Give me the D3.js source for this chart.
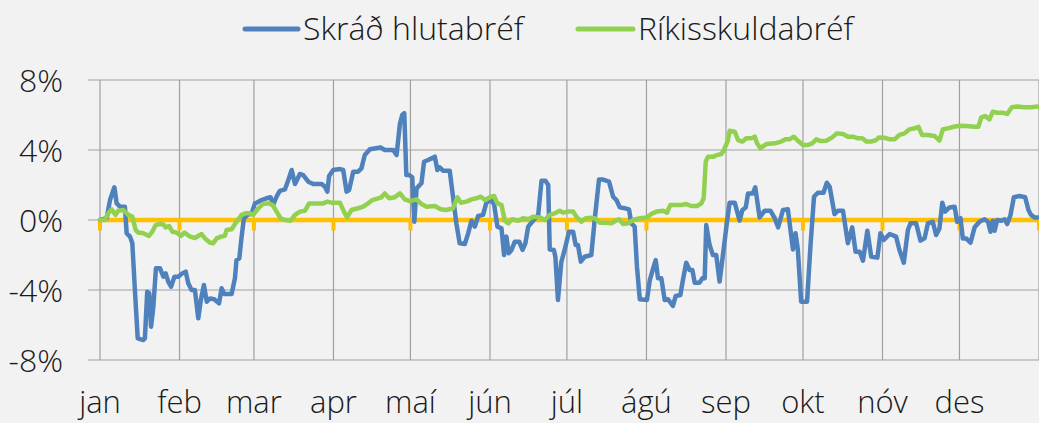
<!DOCTYPE html>
<html>
<head>
<meta charset="utf-8">
<script src="https://cdn.jsdelivr.net/npm/d3@7"></script>
<style>
  html, body { margin: 0; padding: 0; background: #F2F2F2; }
  svg { display: block; }
  text { font-family: "Open Sans", "Noto Sans", sans-serif; font-weight: 300; fill: #1a1a1a; }
</style>
</head>
<body>
<svg id="chart" width="1039" height="423"></svg>
<script>
// ---------- DATA ----------
const year = 2016;
const seriesNames = ["Skráð hlutabréf", "Ríkisskuldabréf"];
const monthLabels = ["jan", "feb", "mar", "apr", "maí", "jún", "júl", "ágú", "sep", "okt", "nóv", "des"];
const yTicks = [-8, -4, 0, 4, 8];

// day of year (0 = 1 Jan) and % change
const stockDays = [0,2.6,3.9,5.6,6.5,7.8,9.7,10.4,11.7,12.6,13.6,14.7,16.9,17.5,18.4,19.2,19.9,20.8,21.8,23.4,24.7,25.6,26.6,27.7,29.0,30.5,32.1,33.4,34.4,35.7,37.0,38.3,39.3,40.5,41.6,42.9,44.5,46.4,47.4,48.4,51.3,52.6,53.2,54.3,55.2,56.1,57.5,59.1,60.4,
  61.0,63.0,64.9,66.5,67.5,68.8,70.1,72.1,73.4,74.7,76.0,77.9,79.2,81.2,83.1,86.4,87.7,88.6,89.3,90.9,93.5,94.8,96.1,97.1,98.7,100.6,101.9,103.2,105.2,107.5,109.3,111.0,114.3,115.6,116.9,117.8,118.6,119.4,
  120.5,121.7,122.5,123.4,125.3,126.3,127.9,129.2,130.5,131.5,132.4,133.7,136.3,137.6,138.9,140.2,142.2,143.5,144.8,146.1,147.4,149.3,150.6,152.3,153.6,154.9,156.5,157.5,158.4,159.3,160.4,161.7,163.4,164.7,165.8,166.9,168.8,170.8,172.1,173.6,174.7,175.3,176.9,177.5,178.5,179.8,181.1,182.8,184.4,185.4,186.3,187.4,188.9,191.5,192.8,194.5,195.8,198.4,200.0,201.3,202.6,204.5,206.2,207.1,208.4,209.3,210.4,213.2,214.3,215.6,216.6,217.5,218.8,220.1,221.4,223.3,224.4,226.2,227.2,228.5,229.8,230.9,231.8,233.7,234.8,235.7,236.3,237.6,238.9,240.2,241.5,242.8,244.4,245.4,247.4,249.3,250.4,251.7,252.6,254.5,255.4,257.1,259.1,261.3,263.0,264.3,266.2,268.1,270.1,271.1,272.0,273.3,275.6,276.9,278.3,279.8,282.0,283.3,284.4,286.3,287.6,289.6,291.5,293.2,294.5,296.1,297.4,299.1,300.6,303.0,304.2,305.5,307.8,310.3,311.6,313.3,314.9,315.9,318.1,319.8,321.4,322.7,324.6,325.9,327.2,328.3,329.4,331.1,333.1,334.1,335.4,336.3,337.6,339.3,340.9,342.8,344.8,346.1,347.1,348.0,348.7,349.7,351.3,352.6,353.6,354.9,356.2,358.4,360.6,361.9,362.9,364.2,365.5];
const stockValues = [0,0.1,1.14,1.87,0.95,0.76,0.76,-0.76,-0.95,-1.33,-4.0,-6.76,-6.86,-6.76,-4.1,-4.19,-6.1,-4.95,-2.76,-2.76,-3.24,-3.05,-3.52,-3.81,-3.24,-3.24,-3.05,-2.95,-3.62,-4.0,-4.0,-5.62,-4.57,-3.71,-4.67,-4.48,-4.53,-4.76,-3.9,-4.23,-4.23,-3.33,-2.29,-2.19,-0.95,0.1,0.29,0.38,0.95,
  0.99,1.14,1.24,1.3,0.86,1.33,1.66,1.75,2.29,2.86,2.06,2.63,2.57,2.19,2.06,2.06,1.9,1.62,2.51,2.86,2.91,2.86,1.62,1.71,2.76,2.76,2.95,3.71,4.04,4.1,4.15,4.0,4.0,3.71,5.5,6.0,6.1,2.57,
  2.57,2.44,-0.1,1.81,2.1,3.33,3.43,3.52,3.62,2.86,3.0,2.82,2.82,1.33,-0.19,-1.33,-1.37,-0.76,-0.04,-0.38,0.23,0.29,0.99,1.14,0.91,-0.38,-0.48,-2.0,-0.95,-1.9,-1.71,-1.24,-1.24,-1.71,-1.33,-0.38,-0.04,0.29,2.25,2.25,2.0,-1.68,-1.71,-2.1,-4.57,-2.4,-1.71,-0.67,-0.67,-1.43,-1.43,-2.38,-2.1,-2.0,0,2.32,2.32,2.19,1.33,1.14,0.72,0.67,0.61,-0.19,-0.38,-2.67,-4.53,-4.57,-3.43,-2.76,-2.29,-3.33,-3.33,-4.57,-4.53,-4.91,-4.34,-4.29,-3.43,-2.44,-2.86,-2.86,-3.58,-3.58,-3.33,-3.33,-0.29,-1.43,-2.0,-2.0,-3.52,-2.0,-0.1,0.99,0.99,-0.04,0.57,0.72,1.52,1.52,1.87,0.15,0.53,0.53,0.1,-0.42,0.57,0.61,-1.68,-0.76,-1.68,-4.67,-4.67,-1.52,1.33,1.56,1.56,2.13,1.9,0.34,0.53,0.53,-1.33,-0.42,-1.81,-1.81,-2.32,-0.61,-2.1,-2.15,-0.76,-1.14,-0.8,-0.95,-1.71,-2.44,-0.57,-0.19,-0.19,-1.18,-1.05,-0.19,-0.1,-0.86,-0.48,0.99,0.48,0.72,0.76,-0.1,0.1,-1.05,-1.05,-1.3,-0.42,-0.1,0.04,-0.1,-0.67,-0.04,-0.61,0,-0.04,0.04,-0.23,0.29,1.3,1.37,1.3,0.57,0.29,0.15,0.15];

const bondDays = [0,1.95,3.2,4.5,6.1,7.1,9.1,11.0,12.6,13.9,14.9,16.9,19.1,20.4,21.7,23.0,24.7,25.6,26.9,28.2,29.9,31.6,32.9,35.1,37.0,39.6,40.9,42.9,44.1,45.5,47.1,48.7,49.3,51.3,53.2,55.2,56.7,58.4,59.7,
  61.7,63.4,65.6,67.3,68.8,70.4,72.1,74.3,76.0,77.9,79.9,81.5,83.8,87.0,88.6,90.2,93.5,95.1,96.3,98.0,100.6,102.6,104.5,106.2,108.4,109.7,111.0,112.7,114.9,116.9,118.8,120.8,
  123.4,125.3,127.3,130.5,132.8,135.0,137.6,139.3,140.6,142.8,144.8,146.7,148.4,150.2,151.9,153.6,154.9,156.5,157.8,159.1,160.6,163.0,164.9,167.1,168.8,171.4,173.4,175.3,177.3,179.2,180.5,182.4,184.4,
  185.7,187.6,189.3,191.5,192.8,194.8,197.4,199.3,201.0,202.3,203.9,205.8,207.8,210.4,213.2,214.9,216.9,219.5,221.0,222.3,224.0,226.6,228.5,230.5,232.7,234.4,235.3,236.1,237.0,239.2,240.5,242.2,243.1,244.8,245.4,247.4,248.7,250.4,251.9,253.9,255.2,256.1,257.4,259.7,263.0,265.5,267.2,268.8,270.4,272.0,274.0,275.9,277.6,279.2,280.9,283.1,285.4,287.2,289.6,291.5,293.5,295.4,297.1,298.7,300.6,302.6,303.6,305.8,307.8,309.7,311.6,313.6,315.5,317.5,319.0,320.4,322.7,325.3,327.2,328.5,330.5,332.8,335.0,337.6,340.9,342.4,343.5,345.0,346.7,348.0,349.7,351.9,353.6,355.4,357.5,360.3,362.9,365.5];
const bondValues = [0,0,0.38,0.61,0.29,0.53,0.57,0.29,0.19,-0.57,-0.72,-0.76,-0.91,-0.67,-0.29,-0.23,-0.25,-0.42,-0.34,-0.67,-0.72,-0.91,-0.72,-0.95,-1.03,-0.8,-1.05,-1.3,-1.33,-1.05,-0.95,-0.9,-0.57,-0.53,-0.1,0.29,0.38,0.38,0.29,
  0.67,0.91,0.95,0.86,0.48,0.1,0,-0.04,0.29,0.48,0.53,0.95,0.95,0.95,1.05,0.99,0.99,0.48,0.15,0.57,0.67,0.76,0.95,1.14,1.24,1.3,1.52,1.24,1.3,1.52,1.18,1.08,
  1.18,0.91,0.76,0.8,0.61,0.57,0.67,1.3,0.99,1.05,1.18,1.24,1.33,1.14,1.3,1.37,0.95,0.86,-0.04,-0.19,0.04,-0.04,0.1,0.04,0.19,0.15,0,0.29,0.38,0.53,0.42,0.48,0.48,
  0.19,-0.1,0.1,0.13,0.1,-0.15,-0.15,-0.19,-0.04,0.04,-0.23,-0.19,0,0.1,0.15,0.34,0.48,0.53,0.42,0.86,0.86,0.86,0.91,0.8,0.8,0.95,1.24,3.33,3.62,3.62,3.71,3.77,3.96,4.57,5.1,5.05,4.57,4.48,4.67,4.67,4.76,4.38,4.1,4.34,4.38,4.48,4.61,4.61,4.76,4.53,4.29,4.29,4.38,4.61,4.51,4.53,4.72,4.95,4.91,4.76,4.76,4.67,4.67,4.48,4.48,4.57,4.72,4.7,4.61,4.61,4.86,4.95,5.18,5.24,5.33,4.86,4.86,4.8,4.53,5.18,5.24,5.33,5.39,5.37,5.33,5.33,5.87,5.94,5.75,6.19,6.13,6.13,6.06,6.44,6.48,6.44,6.44,6.48];

// ---------- CHART ----------
const colors = ["#4F81BD", "#92D050"];
const zeroColor = "#FFC000";
const gridColor = "#A0A0A0";

const svg = d3.select("#chart");
const start = new Date(year, 0, 1);
const end = new Date(year + 1, 0, 1);
const toDate = d => new Date(start.getTime() + d * 864e5);

const x = d3.scaleTime().domain([start, end]).range([100, 1039]);
const y = d3.scaleLinear().domain([-8, 8]).range([360, 80]);
const plotLeft = 88, plotRight = 1039;

const monthStarts = d3.timeMonth.range(start, new Date(year + 1, 0, 2));

// horizontal gridlines
svg.append("g").selectAll("line").data(yTicks).join("line")
  .attr("x1", plotLeft).attr("x2", plotRight)
  .attr("y1", d => y(d)).attr("y2", d => y(d))
  .attr("stroke", gridColor).attr("stroke-width", 1.2);

// vertical gridlines
svg.append("g").selectAll("line").data(monthStarts).join("line")
  .attr("x1", d => x(d)).attr("x2", d => x(d))
  .attr("y1", y(8)).attr("y2", y(-8))
  .attr("stroke", gridColor).attr("stroke-width", 1.2);

// y labels
svg.append("g").selectAll("text").data(yTicks).join("text")
  .attr("x", 63).attr("y", d => y(d)).attr("dy", "0.36em")
  .attr("text-anchor", "end").attr("font-size", 32)
  .text(d => d + "%");

// month labels
svg.append("g").selectAll("text").data(monthStarts.slice(0, 12)).join("text")
  .attr("x", d => x(d)).attr("y", 413)
  .attr("text-anchor", "middle").attr("font-size", 31)
  .text((d, i) => monthLabels[i]);

// zero axis (orange) with tick marks
const zg = svg.append("g");
zg.append("line").attr("x1", x(start)).attr("x2", plotRight)
  .attr("y1", y(0)).attr("y2", y(0))
  .attr("stroke", zeroColor).attr("stroke-width", 4.5);
zg.selectAll("line.tk").data(monthStarts).join("line").attr("class", "tk")
  .attr("x1", d => x(d)).attr("x2", d => x(d))
  .attr("y1", y(0)).attr("y2", y(0) + 10.5)
  .attr("stroke", zeroColor).attr("stroke-width", 4);

// series
const line = d3.line().x(d => x(d.date)).y(d => y(d.v));
const seriesData = [
  stockDays.map((d, i) => ({ date: toDate(d), v: stockValues[i] })),
  bondDays.map((d, i) => ({ date: toDate(d), v: bondValues[i] }))
];
seriesData.forEach((s, i) => {
  svg.append("path").datum(s)
    .attr("d", line)
    .attr("fill", "none")
    .attr("stroke", colors[i])
    .attr("stroke-width", 4.5)
    .attr("stroke-linejoin", "round")
    .attr("stroke-linecap", "round");
});

// legend
const legendItems = [
  { x1: 245, x2: 298, tx: 303 },
  { x1: 578, x2: 633, tx: 638 }
];
legendItems.forEach((li, i) => {
  svg.append("line").attr("x1", li.x1).attr("x2", li.x2)
    .attr("y1", 29).attr("y2", 29)
    .attr("stroke", colors[i]).attr("stroke-width", 5)
    .attr("stroke-linecap", "round");
  svg.append("text").attr("x", li.tx).attr("y", 40)
    .attr("font-size", 32)
    .text(seriesNames[i]);
});
</script>
</body>
</html>
